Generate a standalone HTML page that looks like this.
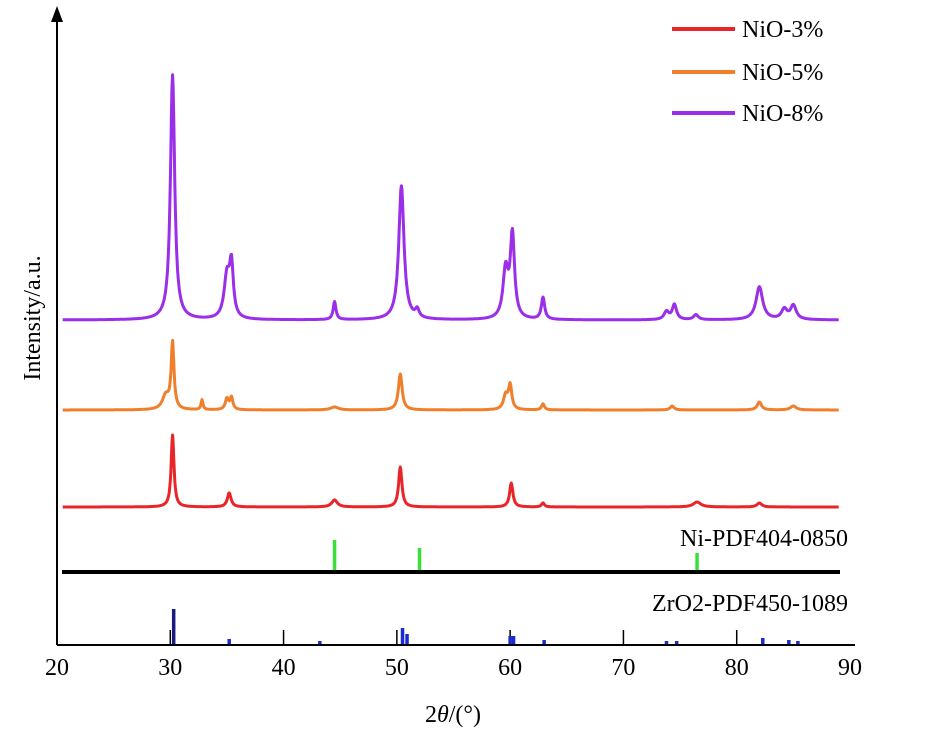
<!DOCTYPE html>
<html><head><meta charset="utf-8">
<style>
body{margin:0;background:#fff;}
svg{display:block;font-family:"Liberation Serif",serif;}
</style></head>
<body>
<svg id="chart" width="929" height="738" viewBox="0 0 929 738" xmlns="http://www.w3.org/2000/svg">
<g id="plot"></g>
</svg>
<script>
// ---- data ----
const xTicks = [20,30,40,50,60,70,80,90];
const seriesNames = ["NiO-3%","NiO-5%","NiO-8%"];
const seriesColors = ["#e8262a","#f07f2c","#9b2ee8"];
const baselines = [0, 97, 187];           // offsets (a.u.)
const peakPos8 = [30.2,35.0,35.4,44.5,50.4,51.8,59.6,60.2,62.9,73.8,74.5,76.4,82.0,84.2,85.0];
const peakH8   = [245,42,50,18,134,8,48,83,22,8,15,5,33,10,14];
const peakW8   = [0.45,0.6,0.4,0.3,0.55,0.4,0.55,0.45,0.35,0.5,0.45,0.5,0.7,0.6,0.6];
const peakPos5 = [29.6,30.2,32.8,35.0,35.4,44.5,50.3,59.6,60.0,62.9,74.3,82.0,85.0];
const peakH5   = [14,66,10,11,12,3,36,14,24,6,4,8,4];
const peakW5   = [0.7,0.3,0.2,0.35,0.3,0.8,0.4,0.45,0.35,0.3,0.4,0.45,0.6];
const peakPos3 = [30.2,35.2,44.5,50.3,60.1,62.9,76.5,82.0];
const peakH3   = [72,14,7,40,24,4,5,4];
const peakW3   = [0.3,0.4,0.6,0.35,0.35,0.3,0.8,0.5];
const niPos = [44.5,52.0,76.5];
const niH   = [30,22,17];
const zrPos = [30.3,35.2,43.2,50.5,50.9,60.0,60.3,63.0,73.8,74.7,82.3,84.6,85.4];
const zrH   = [35,5,3,16,10,8,8,4,3,3,6,4,3];
// ---- scales ----
const X0=57, X1=850, xScale = v => X0 + (v-20)/70*(X1-X0);
const BASE3 = 507, yScale = v => BASE3 - v;
const svg = document.getElementById('plot');
const NS="http://www.w3.org/2000/svg";
function mk(tag, attrs){const e=document.createElementNS(NS,tag);for(const k in attrs)e.setAttribute(k,attrs[k]);svg.appendChild(e);return e;}
let e;
e=mk('line',{x1:X0,y1:645,x2:855,y2:645,stroke:'#000','stroke-width':2});


e=mk('line',{x1:X0,y1:645,x2:X0,y2:18,stroke:'#000','stroke-width':2});


e=mk('polygon',{points:`${X0-6},22 ${X0+6},22 ${X0},6`,fill:'#000'});


xTicks.forEach(t=>{
  const x=xScale(t);
  if(t>20&&t<90){e=mk('line',{x1:x,y1:645,x2:x,y2:630,stroke:'#000','stroke-width':1.5});
  
  }
  e=mk('text',{x:x,y:675,'font-size':24,'text-anchor':'middle'});e.textContent=t;
  
  
});
e=mk('text',{x:453,y:722,'font-size':24,'text-anchor':'middle'});
e.innerHTML='2<tspan font-style="italic">θ</tspan>/(°)';


e=mk('text',{x:0,y:0,'font-size':24,'text-anchor':'middle',transform:'translate(40,318) rotate(-90)'});
e.textContent='Intensity/a.u.';


const peaks=[[peakPos3,peakH3,peakW3],[peakPos5,peakH5,peakW5],[peakPos8,peakH8,peakW8]];
peaks.forEach((p,i)=>{
  let d='';
  for(let x=20.5;x<=89;x+=0.05){
    let v=baselines[i];
    for(let k=0;k<p[0].length;k++){const u=(x-p[0][k])/p[2][k];v+=p[1][k]/(1+u*u*4);}
    d+=(d?'L':'M')+xScale(x).toFixed(1)+','+yScale(v).toFixed(1);
  }
  e=mk('path',{d:d,fill:'none',stroke:seriesColors[i],'stroke-width':3,'stroke-linejoin':'round'});
  
  
});
e=mk('line',{x1:62,y1:572,x2:840,y2:572,stroke:'#000','stroke-width':4});


niPos.forEach((v,i)=>{e=mk('line',{x1:xScale(v),y1:570,x2:xScale(v),y2:570-niH[i],stroke:'#3ae03a','stroke-width':3.5});
  
  });
zrPos.forEach((v,i)=>{e=mk('line',{x1:xScale(v),y1:644,x2:xScale(v),y2:644-zrH[i],stroke:i==0?'#1a1a80':'#1a2ad0','stroke-width':3.5});
  
  });
e=mk('text',{x:848,y:546,'font-size':24,'text-anchor':'end'});e.textContent='Ni-PDF404-0850';


e=mk('text',{x:848,y:611,'font-size':24,'text-anchor':'end'});e.textContent='ZrO2-PDF450-1089';


const legY=[29,72,113];
seriesNames.forEach((n,i)=>{
  e=mk('line',{x1:672,y1:legY[i],x2:735,y2:legY[i],stroke:seriesColors[i],'stroke-width':4});
  
  
  e=mk('text',{x:742,y:legY[i]+8,'font-size':24});e.textContent=n;
  
  
});
</script>
</body></html>
